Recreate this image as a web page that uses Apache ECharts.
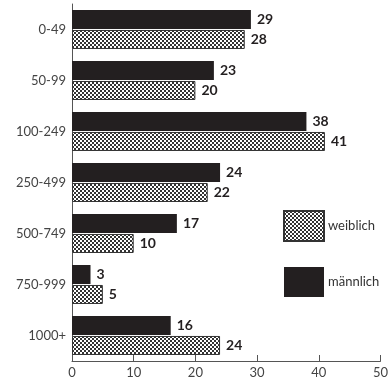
<!DOCTYPE html>
<html>
<head>
<meta charset="utf-8">
<script src="https://cdn.jsdelivr.net/npm/echarts@6/dist/echarts.min.js"></script>
<style>
  html, body { margin: 0; padding: 0; background: #fff; }
  #chart { width: 391px; height: 380px; }
</style>
</head>
<body>
<div id="chart"></div>
<script>
// Unternehmensgröße (Beschäftigte)
let categories = ['0-49', '50-99', '100-249', '250-499', '500-749', '750-999', '1000+'];
let maennlich = [29, 23, 38, 24, 17, 3, 16];
let weiblich = [28, 20, 41, 22, 10, 5, 24];
let xTicks = [0, 10, 20, 30, 40, 50];

// -- checker pattern for "weiblich" --
function makePattern() {
  let c = document.createElement('canvas');
  c.width = 4;
  c.height = 4;
  let ctx = c.getContext('2d');
  ctx.fillStyle = '#333';
  ctx.fillRect(0, 0, 4, 4);
  ctx.fillStyle = '#ffffff';
  ctx.fillRect(0, 0, 2, 2);
  ctx.fillRect(2, 2, 2, 2);
  return c;
}
let pattern = { image: makePattern(), repeat: 'repeat' };

let font = 'Lato, "Open Sans", sans-serif';

let valueLabel = {
  show: true,
  position: 'right',
  distance: 6,
  fontFamily: font,
  fontSize: 14,
  fontWeight: 'bold',
  color: '#231f20'
};

let option = {
  animation: false,
  grid: { left: 72, right: 9, top: 4, bottom: 19 },
  legend: {
    orient: 'vertical',
    left: 278,
    top: 205,
    itemWidth: 40,
    itemHeight: 30,
    itemGap: 25,
    icon: 'rect',
    data: ['weiblich', 'männlich'],
    textStyle: { fontFamily: font, fontSize: 13, color: '#333', padding: [0, 0, 0, -1] }
  },
  xAxis: {
    type: 'value',
    min: xTicks[0],
    max: xTicks[xTicks.length - 1],
    interval: 10,
    splitLine: { show: false },
    axisLine: { show: true, lineStyle: { color: '#555', width: 1 } },
    axisTick: { show: true, inside: true, length: 6, lineStyle: { color: '#555' } },
    axisLabel: { margin: 5, fontFamily: font, fontSize: 13, color: '#444' }
  },
  yAxis: {
    type: 'category',
    inverse: true,
    data: categories,
    axisLine: { show: true, lineStyle: { color: '#555', width: 1 } },
    axisTick: { show: false },
    axisLabel: { margin: 6, fontFamily: font, fontSize: 13, color: '#444' }
  },
  series: [
    {
      name: 'männlich',
      type: 'bar',
      data: maennlich,
      barWidth: 19,
      barGap: '5%',
      itemStyle: { color: '#231f20' },
      label: valueLabel
    },
    {
      name: 'weiblich',
      type: 'bar',
      data: weiblich,
      barWidth: 19,
      itemStyle: { color: pattern, borderColor: '#333', borderWidth: 1 },
      label: valueLabel
    }
  ]
};

let myChart = echarts.init(document.getElementById('chart'));
myChart.setOption(option);
</script>
</body>
</html>
